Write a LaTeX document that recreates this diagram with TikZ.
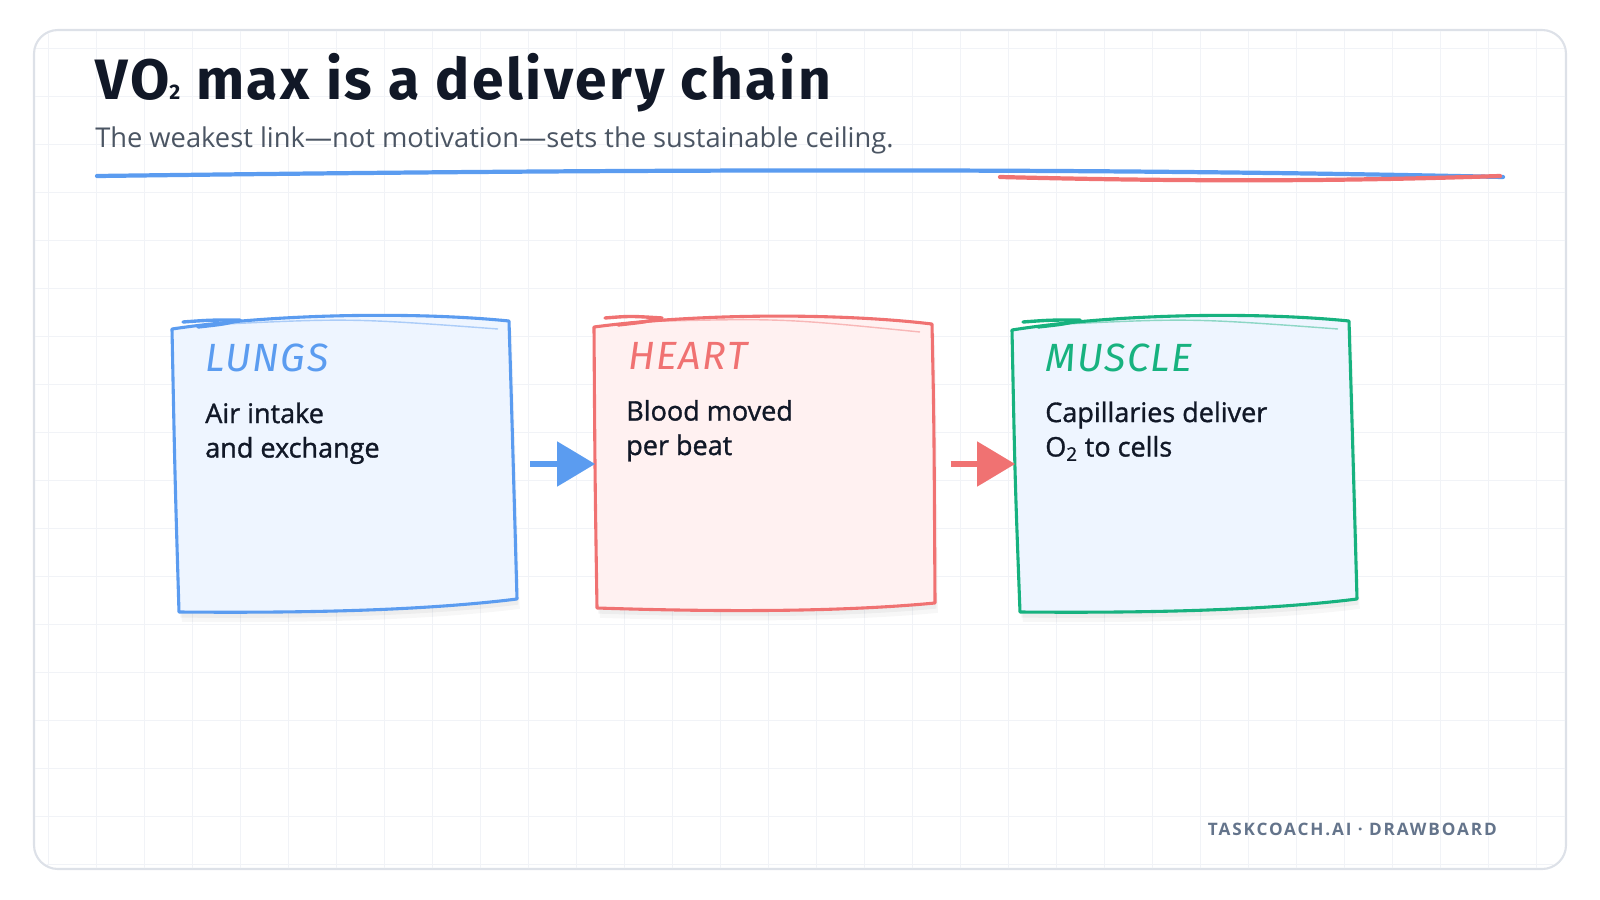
\documentclass[tikz,border=0pt]{standalone}
\usepackage{fontspec}
\setmainfont{Open Sans}
\newfontfamily\handfont{Fira Sans}[LetterSpace=4.5]
\newfontfamily\headfont{Fira Sans}[LetterSpace=4]
\newfontfamily\bodyfont{Open Sans}[FakeBold=1.2]
\newfontfamily\footfont{Open Sans}[LetterSpace=11]
\usetikzlibrary{positioning,calc,arrows.meta}
\definecolor{inkdark}{HTML}{111827}
\definecolor{subgray}{HTML}{4B5563}
\definecolor{footgray}{HTML}{64748B}
\definecolor{cardline}{HTML}{DDE1E8}
\definecolor{gridcol}{HTML}{F1F3F7}
\definecolor{lungblue}{HTML}{5B9CF0}
\definecolor{lungfill}{HTML}{EEF5FF}
\definecolor{heartred}{HTML}{F07272}
\definecolor{heartfill}{HTML}{FFF1F1}
\definecolor{musclegreen}{HTML}{17B27F}
\definecolor{musclefill}{HTML}{EEF5FF}

\begin{document}
\begin{tikzpicture}[
    x=0.025cm, y=-0.025cm,
    boxarea/.style={rectangle, minimum width=8.45cm, minimum height=7.1cm, inner sep=0pt},
    sketch/.style={line width=2.2pt, line join=round, line cap=round,
        preaction={fill=black, opacity=0.03, transform canvas={shift={(2pt,-7pt)}}},
        preaction={fill=black, opacity=0.04, transform canvas={shift={(1pt,-4pt)}}}},
    flick/.style={line width=2.4pt, line cap=round, line join=round},
    innerline/.style={line width=1pt, opacity=0.45},
    cardhead/.style={font=\headfont\itshape\fontsize{28}{30}\selectfont, anchor=base west, inner sep=0pt},
    cardbody/.style={font=\bodyfont\fontsize{19.2}{24.5}\selectfont, text=inkdark, align=left, anchor=base west, inner sep=0pt},
    flow/.style={line width=4.3pt, shorten <=12pt, -{Triangle[length=27pt, width=31pt]}},
    gridline/.style={draw=gridcol, line width=0.7pt}
]
\useasboundingbox (0,0) rectangle (1600,900);

% Board with grid
\draw[cardline, line width=1.5pt, fill=white, rounded corners=17pt] (34,30) rectangle (1566,869);
\begin{scope}
  \clip[rounded corners=17pt] (35,31) rectangle (1565,868);
  \foreach \gx in {48,96,...,1536} \draw[gridline] (\gx,30) -- (\gx,869);
  \foreach \gy in {48,96,...,864} \draw[gridline] (34,\gy) -- (1566,\gy);
\end{scope}

% Title and subtitle
\node[font=\handfont\bfseries\fontsize{40.5}{44}\selectfont, text=inkdark, anchor=base west, inner sep=0pt] (title) at (95,100) {VO{\fontsize{15}{16}\selectfont 2} max is a delivery chain};
\node[font=\fontsize{19.4}{22}\selectfont, text=subgray, anchor=base west, inner sep=0pt] (subtitle) at (95,147) {The weakest link---not motivation---sets the sustainable ceiling.};

% Underline strokes
\draw[lungblue, line width=3pt, line cap=round] (97,176) .. controls (500,171) and (1000,166) .. (1503,177);
\draw[heartred, line width=3pt, line cap=round] (1000,177) .. controls (1200,182) and (1350,181) .. (1500,176);

% Lungs card
\draw[sketch, draw=lungblue, fill=lungfill] (172,329) .. controls (280,313) and (420,312) .. (509,321)
    .. controls (512,420) .. (517,599) .. controls (420,611) and (300,613) .. (179,612)
    .. controls (175,480) .. cycle;
\draw[flick, lungblue] (183,322) .. controls (210,320) .. (240,320) .. controls (225,324) .. (198,327);
\draw[innerline, lungblue] (205,325) .. controls (350,318) .. (498,329);

% Heart card
\draw[sketch, draw=heartred, fill=heartfill] (594,327) .. controls (700,313) and (840,313) .. (932,324)
    .. controls (934,420) .. (935,603) .. controls (840,612) and (720,612) .. (597,608)
    .. controls (595,480) .. cycle;
\draw[flick, heartred] (605,318) .. controls (630,316) .. (662,318) .. controls (645,322) .. (618,325);
\draw[innerline, heartred] (630,322) .. controls (780,318) .. (920,332);

% Muscle card
\draw[sketch, draw=musclegreen, fill=musclefill] (1012,330) .. controls (1120,313) and (1260,312) .. (1349,321)
    .. controls (1352,420) .. (1357,599) .. controls (1260,611) and (1140,613) .. (1020,612)
    .. controls (1015,480) .. cycle;
\draw[flick, musclegreen] (1023,322) .. controls (1050,320) .. (1080,320) .. controls (1065,324) .. (1038,327);
\draw[innerline, musclegreen] (1045,325) .. controls (1190,318) .. (1338,329);

% Card areas for the connectors
\node[boxarea] (lungs) at (344,464) {};
\node[boxarea] (heart) at (764.5,464) {};
\node[boxarea] (muscle) at (1184.5,464) {};

% Card texts
\node[cardhead, text=lungblue] (lungshead) at (205,371) {LUNGS};
\node[cardbody] (lungstext) at (205,457.5) {Air intake\\and exchange};
\node[cardhead, text=heartred] (hearthead) at (628,369) {HEART};
\node[cardbody] (hearttext) at (626,455) {Blood moved\\per beat};
\node[cardhead, text=musclegreen] (musclehead) at (1045,371) {MUSCLE};
\node[cardbody] (muscletext) at (1045,456.5) {Capillaries deliver\\O\textsubscript{2} to cells};

% Connectors
\draw[flow, lungblue] (lungs) -- (heart);
\draw[flow, heartred] (heart) -- (muscle);

% Footer
\node[font=\footfont\bfseries\fontsize{12.2}{14}\selectfont, text=footgray, anchor=base east, inner sep=0pt] (footer) at (1497,835) {TASKCOACH.AI · DRAWBOARD};

\end{tikzpicture}
\end{document}
